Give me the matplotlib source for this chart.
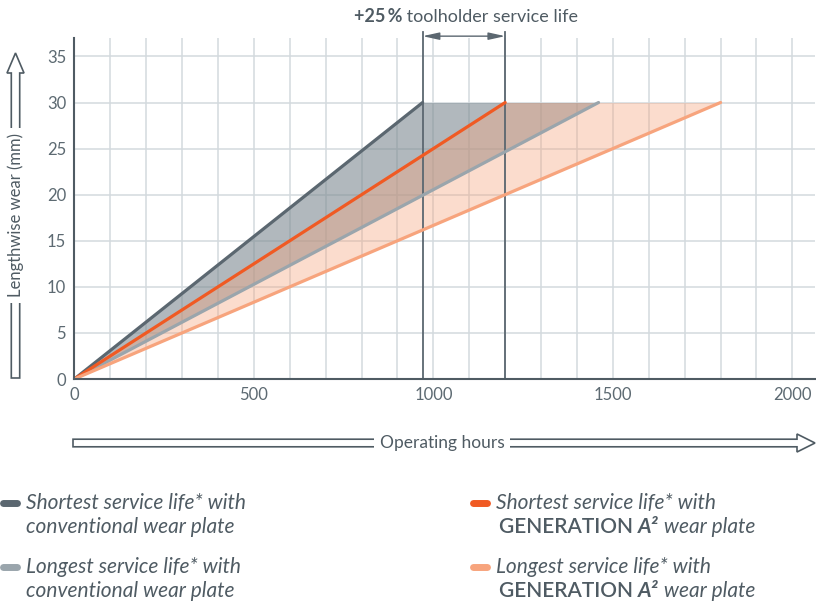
import numpy as np
import matplotlib.pyplot as plt
from matplotlib.patches import Polygon

plt.rcParams['font.family'] = ['Lato', 'DejaVu Sans']

# end points of the wear lines (hours to reach 30 mm)
series_names = ['conv_short', 'conv_long', 'gen_short', 'gen_long']
hours_end = [970, 1460, 1200, 1800]
wear_max = 30
line_colors = ['#5b6770', '#9aa5ac', '#f05a23', '#f7a47d']

x_ticks = [0, 500, 1000, 1500, 2000]
y_ticks = [0, 5, 10, 15, 20, 25, 30, 35]

legend_texts = [
    ('Shortest service life* with', 'conventional wear plate'),
    ('Longest service life* with', 'conventional wear plate'),
    ('Shortest service life* with', 'GENERATION'),
    ('Longest service life* with', 'GENERATION'),
]

txt_col = '#4f5b63'
W, H = 816, 602

fig = plt.figure(figsize=(W / 100, H / 100), dpi=100)
ax = fig.add_axes([74.4 / W, 1 - 379 / H, (815 - 74.4) / W, (379 - 38) / H])

ax.set_xlim(0, 2063)
ax.set_ylim(0, 37)
ax.set_xticks(np.arange(0, 2001, 100), minor=True)
ax.set_yticks(y_ticks)
ax.set_xticks(x_ticks)
ax.grid(True, which='both', axis='x', color='#d3dade', lw=1.1)
ax.grid(True, which='major', axis='y', color='#d3dade', lw=1.1)
ax.set_axisbelow(True)
ax.tick_params(which='both', length=0, labelsize=12, labelcolor='#5d6a72', pad=6)
for s in ['top', 'right']:
    ax.spines[s].set_visible(False)
for s in ['left', 'bottom']:
    ax.spines[s].set_color('#4f5b63')
    ax.spines[s].set_linewidth(1.5)

yy = np.array([0, wear_max])
# shaded bands
ax.fill_betweenx(yy, [0, hours_end[0]], [0, hours_end[1]], color='#7d8a91', alpha=0.6, lw=0)
ax.fill_betweenx(yy, [0, hours_end[2]], [0, hours_end[3]], color='#f7a47d', alpha=0.38, lw=0)

for h, c in zip(hours_end, line_colors):
    ax.plot([0, h], [0, wear_max], color=c, lw=2.3, solid_capstyle='round')

# +25 % markers
for h in (hours_end[0], hours_end[2]):
    ax.plot([h, h], [0, 37.7], color='#5b6770', lw=1.3, clip_on=False, zorder=1)
ax.annotate('', xy=(hours_end[0], 37.2), xytext=(hours_end[2], 37.2),
            arrowprops=dict(arrowstyle='<|-|>,head_length=1.0,head_width=0.22',
                            color='#5b6770', lw=1.0, shrinkA=0, shrinkB=0),
            annotation_clip=False)

t1 = fig.text(354 / W, 1 - 16 / H, '+25\u2009%', fontsize=13, fontweight='bold',
              color=txt_col, va='center', ha='left')
fig.canvas.draw()
ax.annotate(' toolholder service life', xy=(1, 0), xycoords=t1, va='bottom',
            fontsize=13, color=txt_col, annotation_clip=False)


def px(x, y):
    return (x / W, 1 - y / H)


# hollow arrow for y axis
cx = 15.5
sh, hh = 4.2, 8.5
pts = [(cx - sh, 378), (cx - sh, 73), (cx - hh, 73), (cx, 53), (cx + hh, 73),
       (cx + sh, 73), (cx + sh, 378)]
fig.patches.append(Polygon([px(*p) for p in pts], closed=True, transform=fig.transFigure,
                           facecolor='white', edgecolor=txt_col, lw=1.2))
fig.text(px(cx, 215)[0], px(cx, 215)[1], 'Lengthwise wear (mm)', rotation=90,
         ha='center', va='center', fontsize=12, color=txt_col,
         bbox=dict(facecolor='white', edgecolor='none', pad=4))

# hollow arrow for x axis
cy = 443
sh, hh = 3.8, 9
pts = [(73, cy - sh), (797, cy - sh), (797, cy - hh), (815, cy), (797, cy + hh),
       (797, cy + sh), (73, cy + sh)]
fig.patches.append(Polygon([px(*p) for p in pts], closed=True, transform=fig.transFigure,
                           facecolor='white', edgecolor=txt_col, lw=1.2))
fig.text(px(442, cy)[0], px(442, cy)[1], 'Operating hours', ha='center', va='center',
         fontsize=12.5, color=txt_col, bbox=dict(facecolor='white', edgecolor='none', pad=4))

# legend
leg_pos = [(0, 503), (0, 567), (470, 503), (470, 567)]
fs = 15
for (lx, ly), c, (l1, l2) in zip(leg_pos, line_colors, legend_texts):
    fig.lines.append(plt.Line2D([px(lx + 3, 0)[0], px(lx + 17, 0)[0]], [px(0, ly)[1]] * 2,
                                transform=fig.transFigure, color=c, lw=5,
                                solid_capstyle='round'))
    fig.text(px(lx + 26, ly)[0], px(0, ly)[1], l1, style='italic', fontsize=fs,
             color=txt_col, va='center')
    if l2 == 'GENERATION':
        g = fig.text(px(lx + 29, ly + 24)[0], px(0, ly + 24)[1], 'GENERATION ',
                     fontsize=fs, fontweight='semibold', color=txt_col, va='center')
        a = ax.annotate('A\u00b2', xy=(1, 0), xycoords=g, va='bottom', fontsize=fs,
                        style='italic', fontweight='bold', color=txt_col,
                        annotation_clip=False)
        ax.annotate(' wear plate', xy=(1, 0), xycoords=a, va='bottom', fontsize=fs,
                    style='italic', color=txt_col, annotation_clip=False)
    else:
        fig.text(px(lx + 26, ly + 24)[0], px(0, ly + 24)[1], l2, style='italic',
                 fontsize=fs, color=txt_col, va='center')

fig.savefig('out.png', dpi=100)
